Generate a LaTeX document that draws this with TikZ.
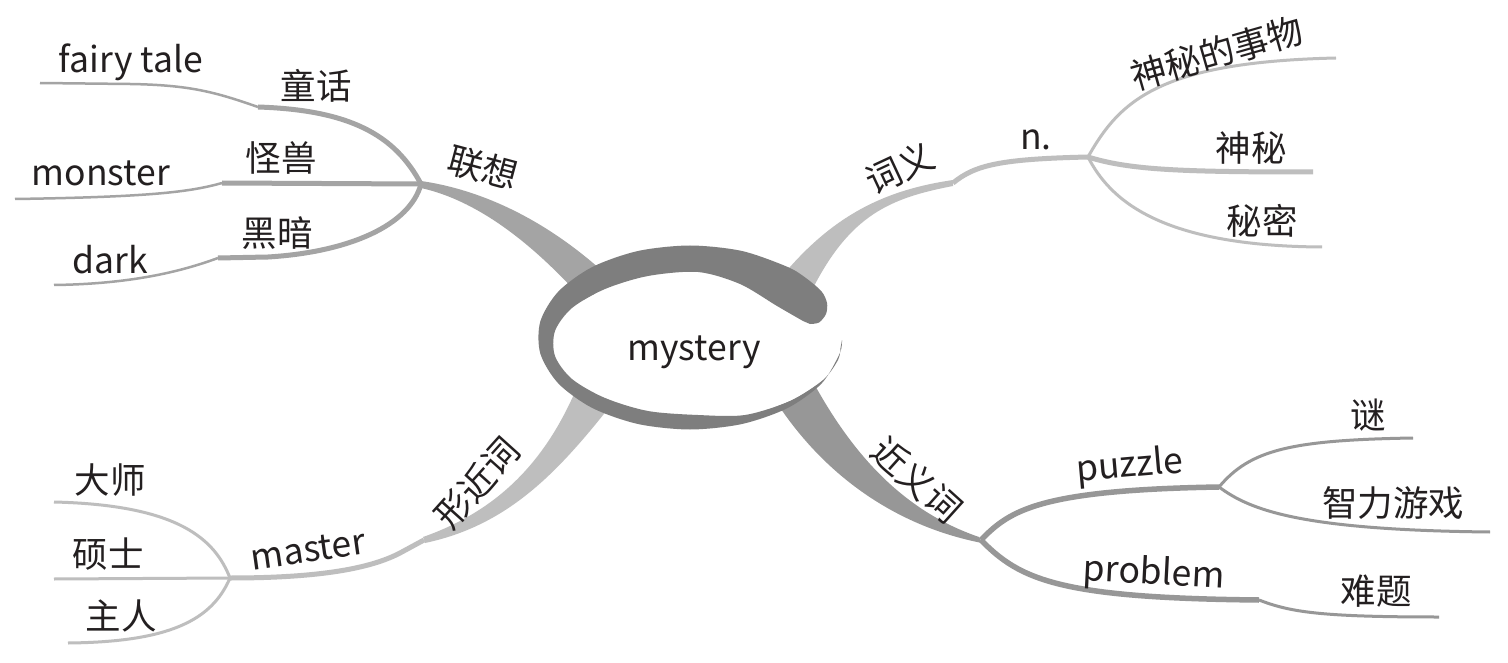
\documentclass[tikz,border=0pt]{standalone}
\usepackage{fontspec}
\setmainfont{Noto Sans CJK SC}
\definecolor{ringc}{HTML}{7E7E7E}
\definecolor{lxc}{HTML}{A4A4A4}
\definecolor{cyc}{HTML}{BEBEBE}
\definecolor{xjc}{HTML}{BEBEBE}
\definecolor{jyc}{HTML}{979797}
\definecolor{txt}{HTML}{231F20}
\begin{document}
\begin{tikzpicture}[x=1pt,y=-1pt,
  lbl/.style={font=\fontsize{35.5}{40}\selectfont, text=txt, inner sep=0pt},
  lxthick/.style={draw=lxc, line width=5},
  lxthin/.style={draw=lxc, line width=2.5},
  cythick/.style={draw=cyc, line width=5},
  cythin/.style={draw=cyc, line width=3},
  xjthick/.style={draw=xjc, line width=5},
  xjthin/.style={draw=xjc, line width=3},
  jythick/.style={draw=jyc, line width=5.5},
  jythin/.style={draw=jyc, line width=3}]
\useasboundingbox (0,0) rectangle (1508,663);
\fill[white] (0,0) rectangle (1508,663);

% junctions and ends
\coordinate (J1) at (421,184);
\coordinate (K11) at (258,107);
\coordinate (E11) at (40,83);
\coordinate (K12) at (222,183);
\coordinate (E12) at (15,199);
\coordinate (K13) at (218,258);
\coordinate (E13) at (54,285);
\coordinate (K2) at (953,183);
\coordinate (J2) at (1088,157);
\coordinate (E21) at (1336,58);
\coordinate (E22) at (1313,172);
\coordinate (E23) at (1322,247);
\coordinate (K4) at (424,540);
\coordinate (J4) at (230,578);
\coordinate (E41) at (54,502);
\coordinate (E42) at (54,579);
\coordinate (E43) at (68,643);
\coordinate (J3) at (981,540);
\coordinate (J5) at (1219,487);
\coordinate (E31) at (1413,438);
\coordinate (E32) at (1490,532);
\coordinate (K33) at (1259,600);
\coordinate (E33) at (1439,617);

% main bands
\fill[lxc] (612,280) .. controls (540,212) and (470,188) .. (421,181) -- (421,188) .. controls (475,200) and (530,240) .. (585,302) -- cycle;
\fill[cyc] (775,285) .. controls (830,215) and (885,190) .. (953,180) -- (953,186) .. controls (890,198) and (850,215) .. (812,290) -- cycle;
\fill[xjc] (575,392) .. controls (545,460) and (500,510) .. (423,537) -- (425,543) .. controls (510,525) and (560,470) .. (615,400) -- cycle;
\fill[jyc] (812,380) .. controls (850,450) and (900,510) .. (979,537) -- (982,543) .. controls (890,525) and (820,470) .. (775,400) -- cycle;

% 联想 children
\draw[lxthick] (J1) .. controls (395,135) and (350,110) .. (K11);
\draw[lxthin] (K11) .. controls (215,92) and (190,85) .. (130,84) -- (E11);
\draw[lxthick] (J1) -- (K12);
\draw[lxthin] (K12) .. controls (190,192) and (150,197) .. (E12);
\draw[lxthick] (J1) .. controls (410,225) and (350,252) .. (268,257) -- (K13);
\draw[lxthin] (K13) .. controls (180,272) and (130,284) .. (E13);

% 词义 children
\draw[cythick] (K2) .. controls (975,165) and (1000,159) .. (J2);
\draw[cythin] (J2) .. controls (1120,100) and (1160,62) .. (E21);
\draw[cythick] (J2) .. controls (1130,170) and (1180,172) .. (E22);
\draw[cythin] (J2) .. controls (1110,200) and (1160,246) .. (E23);

% 形近词 children
\draw[xjthick] (K4) -- (400,553) .. controls (375,566) and (330,578) .. (J4);
\draw[xjthin] (J4) .. controls (215,540) and (180,505) .. (E41);
\draw[xjthin] (J4) -- (E42);
\draw[xjthin] (J4) .. controls (212,620) and (170,642) .. (E43);

% 近义词 children
\draw[jythick] (J3) .. controls (1010,510) and (1040,490) .. (J5);
\draw[jythin] (J5) .. controls (1250,450) and (1290,440) .. (E31);
\draw[jythin] (J5) .. controls (1250,510) and (1300,530) .. (E32);
\draw[jythick] (J3) .. controls (1020,580) and (1060,598) .. (K33);
\draw[jythin] (K33) .. controls (1290,612) and (1320,617) .. (E33);

% central ring: white interior, then brush-stroke ring
\fill[white] plot[smooth cycle] coordinates {(803,321) (777,306) (740,284) (698,272) (648,276) (605,289) (572,308) (555,331) (555,356) (572,379) (605,398) (648,411) (698,415) (745,415) (790,401) (823,380) (838,360) (842,343) (828,328)};
\fill[ringc] plot[smooth] coordinates {(842,340) (839.7,353.5) (821.6,383.5) (787.7,408) (742,424) (690,429.5) (638,424) (592.3,408) (558.4,383.5) (540.3,353.5) (540.3,321.5) (558.4,291.5) (592.3,267) (638,251) (690,245.5) (742,251) (787.7,267) (806.4,278.4) (821.6,291.5) (827,303) (826,314) (819,322.5) (810,324)}
  -- plot[smooth] coordinates {(803,321) (777,306) (740,284) (698,272) (648,276) (605,289) (572,308) (555,331) (555,356) (572,379) (605,398) (648,411) (698,415) (745,415) (790,401) (823,380) (838,360) (840.5,348)} -- cycle;

% labels
\node[lbl] (c) at (694,352) {mystery};
\node[lbl] (t1) at (483,168) [rotate=-15] {联想};
\node[lbl] (t11) at (316,86) {童话};
\node[lbl] (t11e) at (131,62) {fairy tale};
\node[lbl] (t12) at (281,158) {怪兽};
\node[lbl] (t12e) at (101,173) {monster};
\node[lbl] (t13) at (277,233) {黑暗};
\node[lbl] (t13e) at (110,260) {dark};
\node[lbl] (t2) at (900,168) [rotate=25] {词义};
\node[lbl] (t2n) at (1036,140) {n.};
\node[lbl] (t21) at (1217,53) [rotate=16] {神秘的事物};
\node[lbl] (t22) at (1251,148) {神秘};
\node[lbl] (t23) at (1262,221) {秘密};
\node[lbl] (t4) at (477,483) [rotate=48] {形近词};
\node[lbl] (t4m) at (308,550) [rotate=8] {master};
\node[lbl] (t41) at (110,480) {大师};
\node[lbl] (t42) at (108,554) {硕士};
\node[lbl] (t43) at (121,616) {主人};
\node[lbl] (t3) at (917,480) [rotate=-42] {近义词};
\node[lbl] (t3p) at (1130,467) [rotate=5] {puzzle};
\node[lbl] (t3q) at (1154,574) [rotate=-3] {problem};
\node[lbl] (t31) at (1368,415) {谜};
\node[lbl] (t32) at (1393,503) {智力游戏};
\node[lbl] (t33) at (1376,591) {难题};
\end{tikzpicture}
\end{document}
